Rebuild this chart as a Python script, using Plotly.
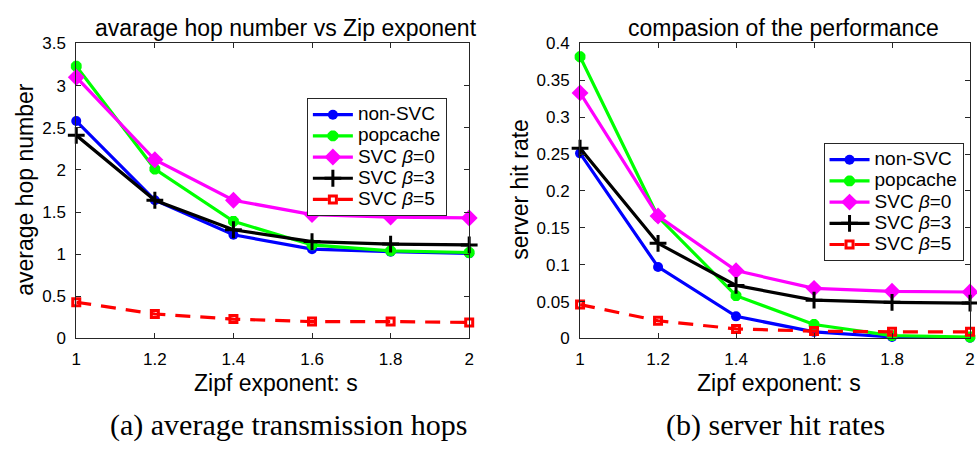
import plotly.graph_objects as go

# ---------------- data ----------------
zipf_s = [1.0, 1.2, 1.4, 1.6, 1.8, 2.0]

series_names = ["non-SVC", "popcache", "SVC <i>β</i>=0", "SVC <i>β</i>=3", "SVC <i>β</i>=5"]

hops_non_svc = [2.58, 1.64, 1.23, 1.06, 1.03, 1.01]
hops_popcache = [3.23, 2.01, 1.39, 1.11, 1.04, 1.02]
hops_svc_b0 = [3.10, 2.12, 1.64, 1.47, 1.44, 1.43]
hops_svc_b3 = [2.41, 1.64, 1.29, 1.15, 1.12, 1.11]
hops_svc_b5 = [0.43, 0.29, 0.23, 0.20, 0.20, 0.19]

hit_non_svc = [0.251, 0.097, 0.030, 0.009, 0.002, 0.001]
hit_popcache = [0.382, 0.165, 0.058, 0.019, 0.004, 0.002]
hit_svc_b0 = [0.333, 0.166, 0.092, 0.068, 0.064, 0.063]
hit_svc_b3 = [0.258, 0.129, 0.072, 0.052, 0.049, 0.048]
hit_svc_b5 = [0.046, 0.024, 0.013, 0.010, 0.009, 0.009]

x_ticks = [1, 1.2, 1.4, 1.6, 1.8, 2]
hops_ticks = [0, 0.5, 1, 1.5, 2, 2.5, 3, 3.5]
hit_ticks = [0, 0.05, 0.1, 0.15, 0.2, 0.25, 0.3, 0.35, 0.4]

# ---------------- styles ----------------
W, H = 977, 450
SANS = "Liberation Sans, Arial, sans-serif"
SERIF = "Liberation Serif, Times New Roman, serif"
AXC = "#262626"
LEG_TEXT_PX = 19

styles = [
    dict(color="#0000ff", symbol="circle", size=10, lw=0, dash="solid"),
    dict(color="#00ff00", symbol="asterisk-open", size=9, lw=4, dash="solid"),
    dict(color="#ff00ff", symbol="diamond", size=13, lw=0, dash="solid"),
    dict(color="#000000", symbol="cross-thin-open", size=12, lw=3, dash="solid"),
    dict(color="#ff0000", symbol="square-open", size=7, lw=3, dash="15px,10px"),
]

fig = go.Figure()

def add_series(ys_list, xa, ya, legend_name):
    for name, ys, st in zip(series_names, ys_list, styles):
        fig.add_trace(go.Scatter(
            x=zipf_s, y=ys,
            name='<span style="font-size:%dpx">%s</span>' % (LEG_TEXT_PX, name),
            mode="lines+markers",
            xaxis=xa, yaxis=ya, legend=legend_name, cliponaxis=False,
            line=dict(color=st["color"], width=3.2, dash=st["dash"]),
            marker=dict(color=st["color"], symbol=st["symbol"], size=st["size"],
                        line=dict(color=st["color"], width=st["lw"])),
        ))

add_series([hops_non_svc, hops_popcache, hops_svc_b0, hops_svc_b3, hops_svc_b5], "x", "y", "legend")
add_series([hit_non_svc, hit_popcache, hit_svc_b0, hit_svc_b3, hit_svc_b5], "x2", "y2", "legend2")

def px_x(p):
    return p / W

def px_y(p):
    return 1 - p / H

y_dom = [px_y(344), px_y(36)]

axis_common = dict(
    showgrid=False, zeroline=False, showline=True, linecolor=AXC, linewidth=1,
    mirror="ticks", ticks="inside", ticklen=5, tickcolor=AXC, tickwidth=1,
    tickfont=dict(family=SANS, size=17, color="#000000"),
)
xaxis_common = dict(axis_common, ticklabelstandoff=5)
yaxis_common = dict(axis_common, ticklabelstandoff=6)

legend_common = dict(xanchor="left", yanchor="top",
                     bgcolor="white", bordercolor=AXC, borderwidth=1,
                     font=dict(family=SANS, size=14, color="#000000"),
                     tracegroupgap=0, itemwidth=40)

fig.update_layout(
    width=W, height=H, margin=dict(l=0, r=0, t=0, b=0),
    paper_bgcolor="white", plot_bgcolor="white",
    showlegend=True,
    xaxis=dict(domain=[px_x(72), px_x(469)], range=[1, 2], tickvals=x_ticks,
               anchor="y", **xaxis_common),
    yaxis=dict(domain=y_dom, range=[0, 3.5], tickvals=hops_ticks, anchor="x",
               **yaxis_common),
    xaxis2=dict(domain=[px_x(581), px_x(975)], range=[1, 2], tickvals=x_ticks,
                anchor="y2", **xaxis_common),
    yaxis2=dict(domain=y_dom, range=[0, 0.4], tickvals=hit_ticks, anchor="x2",
                **yaxis_common),
    legend=dict(x=px_x(305), y=px_y(93), **legend_common),
    legend2=dict(x=px_x(827), y=px_y(140), **legend_common),
)

def ann(text, x, y, size, family=SANS, angle=0):
    fig.add_annotation(text=text, x=px_x(x), y=px_y(y), xref="paper", yref="paper",
                       showarrow=False, xanchor="center", yanchor="middle",
                       textangle=angle, font=dict(family=family, size=size, color="#000000"))

ann("avarage hop number vs Zip exponent", 284, 20, 23)
ann("compasion of the performance", 787, 20, 23)
ann("Zipf exponent: s", 274, 390, 23)
ann("Zipf exponent: s", 782, 390, 23)
ann("average hop number", 20, 188, 23, angle=-90)
ann("server hit rate", 520, 188, 23, angle=-90)
ann("(a) average transmission hops", 286, 434, 30, family=SERIF)
ann("(b) server hit rates", 778, 434, 30, family=SERIF)

fig.write_html("out.html")
